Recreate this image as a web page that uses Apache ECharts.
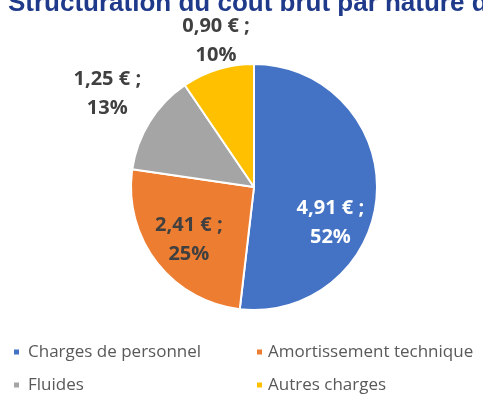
<!DOCTYPE html>
<html>
<head>
<meta charset="utf-8">
<script src="https://cdn.jsdelivr.net/npm/echarts@6/dist/echarts.min.js"></script>
<style>
  html, body { margin: 0; padding: 0; background: #fff; }
  #chart { width: 483px; height: 397px; }
</style>
</head>
<body>
<div id="chart"></div>
<script>
// Cost structure by nature of charge (€ per unit)
const categories = ['Charges de personnel', 'Amortissement technique', 'Fluides', 'Autres charges'];
const amounts = [4.91, 2.41, 1.25, 0.90];
const percents = [52, 25, 13, 10];
const colors = ['#4472C4', '#ED7D31', '#A5A5A5', '#FFC000'];

// label placement relative to the default inside position
const labelOffsets = [[12, 32], [-14, 13], [-92, -59], [-19, -85]];
const labelColors = ['#ffffff', '#404040', '#404040', '#404040'];

const fmt = v => v.toFixed(2).replace('.', ',') + ' €';

const chart = echarts.init(document.getElementById('chart'), null, { renderer: 'canvas' });

const legendText = { color: '#595959', fontSize: 17, fontFamily: 'Open Sans', lineHeight: 20 };

chart.setOption({
  animation: false,
  title: {
    text: 'Structuration du coût brut par nature de charge',
    left: 8,
    top: -9,
    padding: 0,
    textStyle: { color: '#1F3A8A', fontSize: 26, fontWeight: 'bold', fontFamily: 'Liberation Sans' }
  },
  legend: [
    {
      data: [categories[0], categories[2]],
      orient: 'vertical',
      left: 12, top: 342,
      padding: 0,
      itemWidth: 7, itemHeight: 7, itemGap: 13,
      icon: 'rect',
      textStyle: Object.assign({ padding: [0, 0, 0, 3] }, legendText)
    },
    {
      data: [categories[1], categories[3]],
      orient: 'vertical',
      left: 255, top: 342,
      padding: 0,
      itemWidth: 7, itemHeight: 7, itemGap: 13,
      icon: 'rect',
      textStyle: legendText
    }
  ],
  series: [{
    type: 'pie',
    center: [254, 187],
    radius: [0, 123],
    startAngle: 90,
    clockwise: true,
    silent: true,
    itemStyle: { borderColor: '#ffffff', borderWidth: 2 },
    labelLine: { show: false },
    data: categories.map((name, i) => ({
      name,
      value: amounts[i],
      itemStyle: { color: colors[i] },
      label: {
        show: true,
        position: 'inside',
        offset: labelOffsets[i],
        formatter: fmt(amounts[i]) + ' ;\n' + percents[i] + '%',
        color: labelColors[i],
        fontSize: 20,
        fontWeight: 'bold',
        fontFamily: 'Open Sans',
        lineHeight: 29,
        align: 'center'
      }
    }))
  }]
});
</script>
</body>
</html>
